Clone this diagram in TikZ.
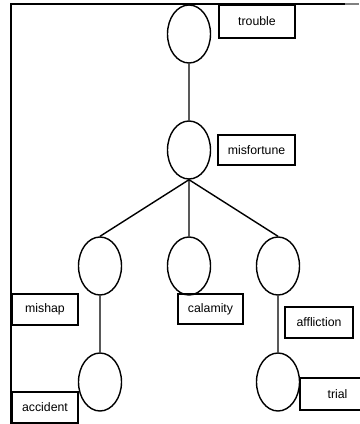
\documentclass[tikz,border=0pt]{standalone}
\usepackage{fontspec}
\setmainfont{Liberation Sans}
\usetikzlibrary{trees,shapes.geometric}

\tikzset{
  sense/.style={draw, ellipse, line width=0.8pt, inner sep=0pt,
    minimum width=0.86cm, minimum height=1.16cm},
  word/.style={draw, rectangle, line width=0.8pt, inner sep=1pt,
    font=\fontsize{7}{8}\selectfont, minimum height=0.62cm}
}

\begin{document}
\begin{tikzpicture}[%
    level distance=2.32cm, sibling distance=1.78cm,%
    edge from parent/.style={draw, line width=0.8pt},%
    edge from parent path={(\tikzparentnode.south)%
    -- (\tikzchildnode.north)}]
  \useasboundingbox (0,0) rectangle (7.18,-8.48);
  % frame
  \draw[line width=0.8pt] (6.9,-0.08) -- (0.22,-0.08) -- (0.22,-8.48);
  \draw[line width=0.8pt, gray] (6.9,-0.08) -- (7.18,-0.08);
  \node[sense] (trouble) at (3.78,-0.68) {}
      child { node[sense] (misfortune) {}
        child { node[sense] (mishap) {}
          child { node[sense] (accident) {}}}
        child { node[sense] (calamity) {}}
        child { node[sense] (affliction) {}
          child { node[sense] (trial) {}}}};
  % word boxes
  \node[word, minimum width=1.52cm, minimum height=0.66cm] (troubleW) at (5.14,-0.43) {trouble};
  \node[word, minimum width=1.54cm, minimum height=0.60cm] (misfortuneW) at (5.13,-3.00) {misfortune};
  \node[word, minimum width=1.32cm] (mishapW) at (0.90,-6.19) {mishap};
  \node[word, minimum width=1.30cm, minimum height=0.60cm] (calamityW) at (4.21,-6.18) {calamity};
  \node[word, minimum width=1.36cm] (afflictionW) at (6.38,-6.45) {affliction};
  \node[word, minimum width=1.32cm] (accidentW) at (0.90,-8.15) {accident};
  \node[word, minimum width=1.50cm, minimum height=0.64cm] (trialW) at (6.75,-7.88) {trial\hspace{0.22cm}};
\end{tikzpicture}
\end{document}
